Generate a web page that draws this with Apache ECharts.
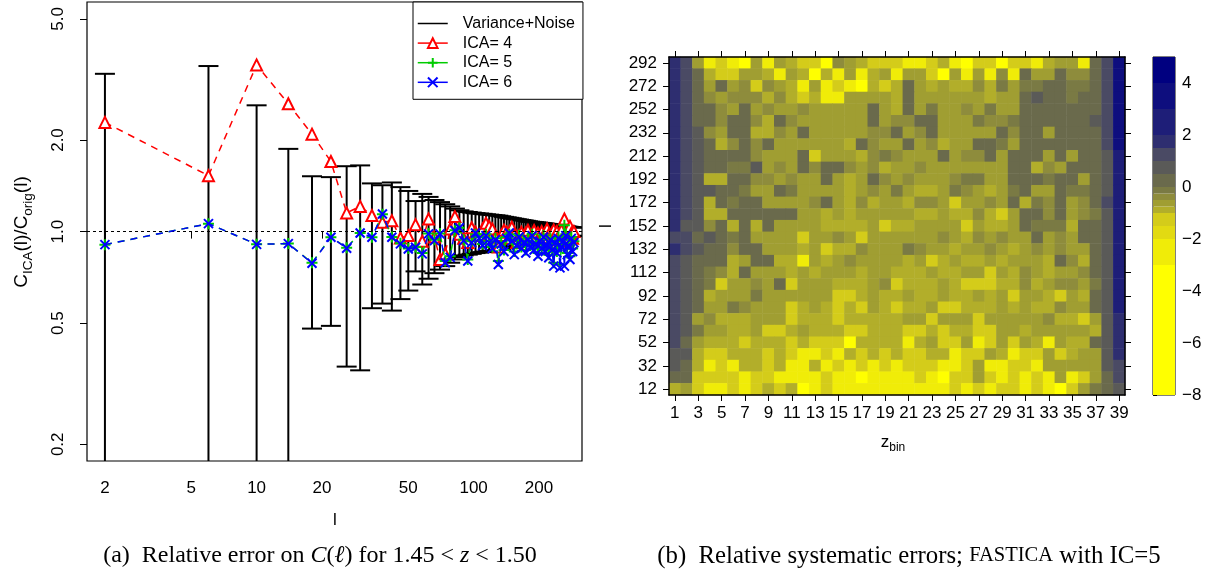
<!DOCTYPE html>
<html><head><meta charset="utf-8">
<script src="https://cdn.jsdelivr.net/npm/echarts@6/dist/echarts.min.js"></script>
<style>html,body{margin:0;padding:0;background:#fff}#c{width:1219px;height:577px}</style>
</head><body><div id="c"></div>
<script>
// ---------- Panel (a) data ----------
const ells = [2,6,10,14,18,22,26,30,34,38,42,46,50,54,58,62,66,70,74,78,82,86,90,94,98,102,106,110,114,118,122,126,130,134,138,142,146,150,154,158,162,166,170,174,178,182,186,190,194,198,202,206,210,214,218,222,226,230,234,238,242,246,250,254,258,262,266,270,274,278,282,286,290];
const sigma = [2.3,2.5,1.6,0.87,0.52,0.51,0.64,0.65,0.44,0.42,0.45,0.40,0.36,0.26,0.33,0.30,0.27,0.25,0.23,0.21,0.19,0.175,0.165,0.16,0.155,0.15,0.147,0.144,0.14,0.137,0.134,0.131,0.128,0.123,0.118,0.114,0.11,0.106,0.102,0.098,0.095,0.091,0.088,0.085,0.081,0.078,0.076,0.074,0.072,0.07,0.068,0.066,0.064,0.062,0.06,0.058,0.056,0.054,0.052,0.051,0.049,0.047,0.046,0.044,0.043,0.041,0.04,0.038,0.037,0.035,0.034,0.032,0.031];
const ica4 = [2.285,1.527,3.53,2.63,2.09,1.70,1.152,1.21,1.13,1.073,1.086,0.953,0.97,1.054,0.93,1.10,0.96,0.81,0.845,1.02,1.12,0.98,0.95,0.92,1.03,0.995,0.97,1.02,1.065,1.04,1.02,0.96,0.89,0.97,1.01,0.995,0.95,1.033,0.98,0.92,0.97,0.995,0.94,0.99,1.01,0.95,0.97,1.008,0.96,0.99,0.93,1.0,0.97,0.95,1.02,0.98,0.94,0.99,1.013,0.96,1.0,0.94,0.97,1.01,0.95,1.10,0.93,0.98,0.96,1.04,0.987,0.95,1.0];
const ica5 = [0.906,1.062,0.908,0.913,0.79,0.958,0.885,0.99,0.958,1.14,0.96,0.915,0.88,0.89,0.85,0.985,0.94,0.985,0.80,0.83,1.01,1.03,0.94,0.81,0.93,0.98,0.96,0.91,0.98,0.93,0.89,0.95,0.80,0.92,0.87,0.96,0.98,0.94,0.86,0.91,0.97,0.89,0.93,0.87,0.95,0.90,0.98,0.88,0.92,0.85,0.94,0.89,0.97,0.87,0.91,0.84,0.95,0.88,0.79,0.93,0.86,0.96,0.78,0.90,0.94,1.05,0.98,0.85,0.91,0.83,0.96,0.88,0.93];
const ica6 = [0.906,1.062,0.908,0.913,0.787,0.958,0.882,0.99,0.958,1.143,0.958,0.911,0.877,0.888,0.845,0.983,0.934,0.983,0.79,0.823,1.008,1.03,0.934,0.80,0.92,0.99,0.95,0.90,0.97,0.92,0.88,0.94,0.78,0.91,0.86,0.95,0.99,0.93,0.84,0.90,0.96,0.88,0.92,0.85,0.94,0.89,0.97,0.87,0.91,0.83,0.93,0.88,0.96,0.86,0.90,0.82,0.94,0.87,0.77,0.92,0.85,0.95,0.76,0.89,0.93,0.77,0.97,0.84,0.90,0.81,0.95,0.86,0.92];
const xTickVals = [2,5,10,20,50,100,200];
const yTickVals = [0.2,0.5,1.0,2.0,5.0];

// ---------- Panel (b) data ----------
const zBins = ['1','2','3','4','5','6','7','8','9','10','11','12','13','14','15','16','17','18','19','20','21','22','23','24','25','26','27','28','29','30','31','32','33','34','35','36','37','38','39'];
const heatEll = [292,282,272,262,252,242,232,222,212,202,192,182,172,162,152,142,132,122,112,102,92,82,72,62,52,42,32,22,12];
const heatRows = [
[1.75,1.25,-.6,-2.5,-1.3,-2.5,-4,-.6,-2.5,-.6,-.85,-1.3,-1.3,-4,-.35,-.6,-.85,-1.3,-1.3,-1.3,-2.5,-2.5,-1.3,-.85,-2.5,-4,-1.3,-1.3,-4,-1.3,-1.3,-2.5,-.85,-.6,-.6,-2.5,.25,1.25,3.5],
[1.75,1.25,.25,-.85,-1.3,-1.3,-.6,-.6,-.85,-2.5,-.6,-.85,-4,-.85,-2.5,-.6,-2.5,-.85,-.6,-2.5,-.6,-.6,-1.3,-4,-.6,-2.5,-.6,-2.5,-.35,-2.5,.25,-.6,-.6,.25,-.35,-.35,.25,1.25,3.5],
[1.75,1.25,.25,-.6,.25,-.6,-.35,-1.3,-.35,-.6,-.85,-2.5,-.6,-2.5,-1.3,-2.5,-4,-.85,-1.3,-.85,.25,-.6,-.85,-.6,-.85,-.85,-.35,-.85,-.1,-.6,-.1,-.1,.25,.25,-.1,-.1,.25,1.25,3.5],
[1.75,1.25,.25,-.35,-.6,-.35,-.35,-.35,-.85,-.35,-.85,-1.3,-.85,-2.5,-2.5,-.6,-.6,-.6,-.6,-.85,.25,-.6,-.6,-.6,-.6,-.6,-.6,-.85,-.6,-.6,.25,.75,.25,.25,-.1,.25,.25,1.25,3.5],
[1.75,1.25,.25,.25,-.35,-.6,.25,-.6,-.35,-.6,-.6,-.35,-.6,-.6,-.6,-.6,-.6,.25,-.6,-.85,.25,-.6,-.1,-.6,-.6,-.35,-.6,-.1,-.6,-.6,.25,.25,.25,.25,.25,.25,.25,1.25,3.5],
[1.75,1.25,.25,.25,-.35,.25,.25,-.35,-.85,.25,-.35,-.6,-.6,-.6,-.6,-.6,-.6,.25,-.6,-.35,-.35,.25,.25,-.6,-.6,-.6,-.1,-.35,-.35,-.1,.25,.25,.25,.25,.25,.25,.75,1.25,3.5],
[1.75,1.25,.75,-.35,-.6,.25,.25,-.85,-.85,-.35,-.6,.25,-.6,-.6,-.6,-.6,-.6,-.35,-.35,.25,-.6,-.35,.25,-.6,-.6,-.6,-.6,-.6,.25,-.35,.25,.25,-.6,.25,.25,.25,.25,1.25,3.5],
[1.75,1.25,.75,.25,-.85,-.35,.25,-.35,.25,-.6,-.6,-.6,-.6,-.6,-.6,-.85,.25,-.35,-.6,-.6,.25,-.6,-.35,-.85,-.6,-.6,.25,.25,-.1,-.6,.25,.25,.25,.25,.25,.25,.25,1.25,3.5],
[1.75,1.25,.75,.25,.25,.25,.25,-.35,-.6,-.6,-.6,.25,-1.3,-.6,-.6,-.6,-.85,-.35,-.1,-.35,-.6,-.6,-.6,.25,-.6,-.35,-.35,.25,-.6,.25,.25,.25,-.6,.25,-.6,.25,.25,.75,2.5],
[1.75,1.25,.75,.25,.25,-.1,-.1,.75,-.6,-.35,-.6,.25,-.35,.25,.25,-.35,-.6,-.35,-.85,-.6,-.6,-.35,-.6,-.6,-.6,-.6,-.6,-.6,-.6,.25,.25,-.85,-.35,-.6,.25,.25,.25,.75,2.5],
[1.75,1.25,.75,-.85,-.85,.25,.25,-.35,-.35,-.6,-.35,-.6,-.6,.25,-.6,-.85,-.6,.25,-.35,-.6,-.35,-.6,-.6,-.6,-.35,-.1,-.1,-.6,-.6,.25,.25,.25,-.1,.25,.25,-.6,.25,.75,2.5],
[1.75,1.25,.75,.75,.25,.25,-.1,-.6,-.6,.25,-.1,-.6,-.6,-.6,-.6,-.85,-.6,-.35,-.6,-.1,-.6,-.85,-.85,-.6,-.1,-.35,-.6,-.85,-.6,-.1,.25,-.6,-.6,.25,-.1,-.1,.25,.75,2.5],
[1.75,1.25,.75,-.85,.25,-.1,.25,.25,-.6,-.6,-.6,-.6,-.35,.25,-.6,-.85,-.35,-.85,-.6,-.6,-.85,-.35,-.35,-.6,-1.3,-.6,-.6,-.35,-.6,.25,-.85,-.1,-.35,.25,-.6,-.35,.25,1.25,2.5],
[1.75,1.25,.75,-.85,-.85,.25,.25,.25,.25,.25,.25,-.6,-.6,-.85,-.6,-.85,-.6,-.6,-.6,-.6,-.6,-.85,-.85,-.6,-.85,-.85,-.35,-.85,-1.3,-.6,.25,.25,-.35,.25,-.6,-.35,-.1,.75,2.5],
[1.75,.75,.75,-.35,.25,-.85,.25,-.85,.25,-.6,-.6,-.6,-.6,-.85,-.85,-.85,-.85,-.6,-1.3,-.85,-.85,-.6,-.6,-.6,-.6,-1.3,-.6,-.85,-.85,-.6,.25,-.1,-.1,-.1,-.85,.25,.25,.75,2.5],
[1.25,1.25,.25,.75,.25,-.1,.25,-.6,-.6,-.6,-.6,-1.3,-.6,-.6,-.35,-.6,-1.3,-.6,-.6,-.6,-.6,-.6,-.6,-.35,-.6,-.85,-.35,-.6,-.35,-.6,-.6,.25,-.6,-.35,-.6,.25,.25,.75,2.5],
[1.75,1.25,.75,.25,.25,-.35,.25,.25,-.6,-.6,-.6,-.85,-.6,-1.3,-.85,-.85,-.35,-.6,-.6,-.6,-.1,-.35,-.6,-.6,-.85,-.6,-.6,-.35,-.6,-.85,-.6,-.35,-.6,-.35,-.6,-.6,.25,.75,2.5],
[1.25,.75,.25,.25,.25,-.85,-.6,.25,.25,-.85,-.85,-2.5,-.6,-.85,-.6,-.35,-.6,-.6,-.6,-.6,-.85,-.6,-1.3,-.85,-.6,-.85,-.85,-.6,-.85,-.6,-.6,-.6,-.85,.25,-.35,-.85,.25,.75,2.5],
[1.25,.75,.25,-.1,-.35,-.85,.25,-.6,-.6,-.6,-.85,-.6,-.85,-.6,-.6,-.6,-.85,-.6,-.6,-.85,-.85,-.85,-.6,-.85,-.85,-.6,-.6,-1.3,-.6,-.85,-.35,-.6,-.85,-.6,-.6,-.35,.25,.75,2.5],
[1.25,.75,.25,-.1,-1.3,-.6,-.6,-.35,-.6,.25,-1.3,-.6,-.6,-.6,-.85,-.85,-.85,-.6,-.35,-1.3,-.85,-.85,-.85,-.6,-.85,-1.3,-1.3,-1.3,-.85,-.85,-.35,-.85,-.6,-.35,-.35,-.6,-.1,.75,2.5],
[1.25,.75,.25,-.85,-.6,-.6,-.6,-.1,-.6,-.6,-.6,-.6,-.6,-.6,-1.3,-1.3,-.85,-.6,-.85,-.85,-.6,-.85,-.85,-.6,-.85,-.85,-.6,-.85,-.6,-1.3,-.6,-.6,-.85,-1.3,-.6,-.85,.25,.75,2.5],
[1.25,.75,.25,-.6,-.6,-.1,-.35,-.6,-.6,-.6,-1.3,-.85,-.6,-.85,-1.3,-.85,-1.3,-.6,-.85,-1.3,-.85,-.85,-.6,-1.3,-1.3,-.85,-.85,-.85,-.6,-.85,-.6,-.85,-.85,-.35,-.6,-.6,.25,.75,2.5],
[1.25,.75,-.6,-.35,-.85,-.85,-.85,-.6,-.6,-.6,-1.3,-.85,-.85,-.85,-1.3,-.85,-.85,-.85,-.85,-.85,-.6,-.6,-1.3,-.6,-.6,-.6,-1.3,-.6,-.6,-.6,-.6,-.6,-.35,-.85,-.85,-1.3,-.6,.75,1.75],
[1.25,.75,-.1,-.6,-.6,-.85,-.85,-.6,-1.3,-1.3,-.85,-.6,-.85,-.85,-.85,-1.3,-1.3,-.85,-.85,-.85,-1.3,-1.3,-.85,-1.3,-.85,-.85,-1.3,-1.3,-.6,-.6,-.85,-.6,-.6,-.6,-.6,-.6,-.85,.75,1.75],
[1.25,.25,-.6,-.85,-.85,-.85,-1.3,-.85,-.85,-.85,-1.3,-.85,-1.3,-1.3,-1.3,-4,-.85,-.85,-.85,-.85,-2.5,-.85,-.6,-1.3,-1.3,-.6,-2.5,-1.3,-.6,-1.3,-.6,-.85,-2.5,-.6,-.85,-.85,.25,.75,1.75],
[.75,.75,-.85,-1.3,-1.3,-.85,-.85,-.85,-1.3,-.85,-1.3,-2.5,-2.5,-1.3,-2.5,-.85,-1.3,-.85,-1.3,-.85,-1.3,-1.3,-.85,-.85,-2.5,-1.3,-1.3,-.6,-.85,-2.5,-1.3,-1.3,-.6,-1.3,-.85,-.6,-.6,.75,1.75],
[.75,.25,-.85,-2.5,-1.3,-2.5,-.85,-.85,-1.3,-.85,-2.5,-2.5,-.85,-2.5,-1.3,-2.5,-1.3,-2.5,-1.3,-2.5,-1.3,-1.3,-1.3,-2.5,-2.5,-1.3,-.6,-2.5,-2.5,-1.3,-1.3,-2.5,-.6,-.6,-.6,-.6,-.6,.75,1.25],
[.25,.25,-1.3,-1.3,-1.3,-1.3,-2.5,-1.3,-1.3,-2.5,-2.5,-2.5,-2.5,-1.3,-2.5,-2.5,-4,-2.5,-2.5,-2.5,-2.5,-1.3,-2.5,-4,-1.3,-1.3,-.6,-1.3,-2.5,-1.3,-2.5,-1.3,-2.5,-.6,-2.5,-1.3,-.6,.25,1.25],
[-.85,-.6,-1.3,-2.5,-2.5,-1.3,-2.5,-1.3,-.85,-1.3,-.85,-4,-2.5,-1.3,-2.5,-2.5,-2.5,-2.5,-2.5,-2.5,-2.5,-2.5,-2.5,-2.5,-1.3,-2.5,-1.3,-2.5,-1.3,-1.3,-2.5,-1.3,-2.5,-4,-1.3,-.6,-.1,.25,.75]
];
const cbBreaks = [-8,-3,-2,-1.5,-1,-0.75,-0.5,-0.25,0,0.5,1,1.5,2,3,4,5];
const cbColors = ['#FFFF00','#F0EC08','#E2DA12','#D4CC1A','#B2AE2A','#A09E32','#8E8C3C','#7A7A44','#6A6A4C','#5A5A58','#4A4A64','#2E2E70','#1E1E78','#0E0E7E','#000080'];
const cbTickVals = [-8,-6,-4,-2,0,2,4];

// ---------- build ----------
const L10 = Math.log10;
const SANS = 'Liberation Sans, Arial, sans-serif';
const SERIF = 'Liberation Serif, Times New Roman, serif';
const errData = ells.map((l, i) => [L10(l), L10(Math.max(1 - sigma[i], 1e-3)), L10(1 + sigma[i])]);
const toPts = arr => ells.map((l, i) => [L10(l), L10(arr[i])]);
const yCats = heatEll.slice().reverse().map(String);
const heatData = [];
heatRows.forEach((row, r) => row.forEach((v, c) => heatData.push([c, heatRows.length - 1 - r, v])));
const cbData = cbColors.map((c, i) => [0, cbBreaks[i], cbBreaks[i + 1], i]);

const tickStyle = {color: '#000', width: 1};
const lblStyle = {color: '#000', fontFamily: SANS, fontSize: 17};

const chart = echarts.init(document.getElementById('c'));
chart.setOption({
  animation: false,
  backgroundColor: '#fff',
  grid: [
    {left: 87, top: 2, width: 495, height: 459, show: true, borderColor: '#000', borderWidth: 1.2, backgroundColor: 'transparent'},
    {left: 669, top: 57, width: 456, height: 338},
    {left: 1153, top: 57, width: 22, height: 338, show: true, borderColor: '#000', borderWidth: 1, backgroundColor: 'transparent'}
  ],
  xAxis: [
    {type: 'value', gridIndex: 0, min: 0.2184, max: 2.4995, axisLine: {show: false}, splitLine: {show: false},
     axisTick: {show: true, customValues: xTickVals.map(L10), length: 7, lineStyle: tickStyle},
     axisLabel: Object.assign({customValues: xTickVals.map(L10), margin: 19, formatter: v => String(Math.round(Math.pow(10, v)))}, lblStyle)},
    {type: 'category', gridIndex: 1, data: zBins, position: 'bottom', z: 10,
     axisLine: {show: true, lineStyle: {color: '#000', width: 1.5}},
     axisTick: {show: true, alignWithLabel: true, interval: 1, length: 6, lineStyle: tickStyle},
     axisLabel: Object.assign({interval: 1, margin: 10}, lblStyle), splitLine: {show: false}},
    {type: 'category', gridIndex: 1, data: zBins, position: 'top', z: 10,
     axisLine: {show: true, lineStyle: {color: '#000', width: 1.5}},
     axisTick: {show: true, alignWithLabel: true, interval: 1, length: 6, lineStyle: tickStyle},
     axisLabel: {show: false}, splitLine: {show: false}},
    {type: 'value', gridIndex: 2, min: 0, max: 1, show: false}
  ],
  yAxis: [
    {type: 'value', gridIndex: 0, min: -0.7539, max: 0.7545, axisLine: {show: false}, splitLine: {show: false},
     axisTick: {show: true, customValues: yTickVals.map(L10), length: 7, lineStyle: tickStyle},
     axisLabel: Object.assign({customValues: yTickVals.map(L10), rotate: 90, margin: 20, formatter: v => Math.pow(10, v).toFixed(1)}, lblStyle)},
    {type: 'category', gridIndex: 1, data: yCats, position: 'left', z: 10,
     axisLine: {show: true, lineStyle: {color: '#000', width: 1.5}},
     axisTick: {show: true, alignWithLabel: true, interval: 1, length: 6, lineStyle: tickStyle},
     axisLabel: Object.assign({interval: 1, margin: 12}, lblStyle), splitLine: {show: false}},
    {type: 'category', gridIndex: 1, data: yCats, position: 'right', z: 10,
     axisLine: {show: true, lineStyle: {color: '#000', width: 1.5}},
     axisTick: {show: true, alignWithLabel: true, interval: 1, length: 6, lineStyle: tickStyle},
     axisLabel: {show: false}, splitLine: {show: false}},
    {type: 'value', gridIndex: 2, min: -8, max: 5, position: 'right', axisLine: {show: false}, splitLine: {show: false},
     axisTick: {show: true, customValues: cbTickVals, length: 4, lineStyle: tickStyle},
     axisLabel: Object.assign({customValues: cbTickVals, margin: 7, formatter: v => String(v).replace('-', '\u2212')}, lblStyle)}
  ],
  visualMap: {
    type: 'piecewise', show: false, seriesIndex: 5, dimension: 2,
    pieces: cbColors.map((c, i) => ({gte: cbBreaks[i], lt: cbBreaks[i + 1], color: c}))
  },
  legend: {
    orient: 'vertical', left: 413, top: 2, z: 20, selectedMode: false,
    data: [{name: 'Variance+Noise', itemStyle: {opacity: 0}}, 'ICA= 4', 'ICA= 5', 'ICA= 6'],
    backgroundColor: '#fff', borderColor: '#000', borderWidth: 1, borderRadius: 0,
    padding: [13.5, 8, 9, 4], itemWidth: 30, itemHeight: 12, itemGap: 3.6,
    textStyle: {fontFamily: SANS, fontSize: 16, color: '#000', padding: [0, 0, 0, 10]},
    lineStyle: {type: 'solid', width: 1.5}
  },
  series: [
    {type: 'custom', name: 'errbars', xAxisIndex: 0, yAxisIndex: 0, clip: true, z: 2, silent: true,
     data: errData, encode: {x: 0, y: [1, 2]},
     renderItem: (params, api) => {
       const x = api.value(0);
       const top = api.coord([x, api.value(2)]);
       const bot = api.coord([x, api.value(1)]);
       const hw = 10, style = {stroke: '#000', lineWidth: 2};
       return {type: 'group', children: [
         {type: 'line', shape: {x1: top[0], y1: top[1], x2: bot[0], y2: bot[1]}, style},
         {type: 'line', shape: {x1: top[0] - hw, y1: top[1], x2: top[0] + hw, y2: top[1]}, style},
         {type: 'line', shape: {x1: bot[0] - hw, y1: bot[1], x2: bot[0] + hw, y2: bot[1]}, style}
       ]};
     }},
    {type: 'line', name: 'Variance+Noise', xAxisIndex: 0, yAxisIndex: 0, data: [], symbol: 'none',
     lineStyle: {color: '#000', width: 1.5}, itemStyle: {color: '#000'}},
    {type: 'line', name: 'ICA= 4', xAxisIndex: 0, yAxisIndex: 0, data: toPts(ica4), z: 3,
     symbol: 'emptyTriangle', symbolSize: 11, lineStyle: {color: '#ff0000', width: 1.5, type: [7, 6]},
     itemStyle: {color: '#ff0000', borderWidth: 1.5},
     markLine: {silent: true, symbol: 'none', label: {show: false}, lineStyle: {color: '#000', width: 1, type: [3, 3]}, data: [{yAxis: 0}]}},
    {type: 'line', name: 'ICA= 5', xAxisIndex: 0, yAxisIndex: 0, data: toPts(ica5), z: 4,
     symbol: 'emptyPath://M5,0 L5,10 M0,5 L10,5', symbolSize: 11, lineStyle: {color: '#00cc00', width: 1.5, type: [7, 6]},
     itemStyle: {color: '#00cc00', borderWidth: 1.5}},
    {type: 'line', name: 'ICA= 6', xAxisIndex: 0, yAxisIndex: 0, data: toPts(ica6), z: 5,
     symbol: 'emptyPath://M0,0 L10,10 M10,0 L0,10', symbolSize: 9, lineStyle: {color: '#0000ff', width: 1.5, type: [7, 6]},
     itemStyle: {color: '#0000ff', borderWidth: 2}},
    {type: 'heatmap', name: 'heat', xAxisIndex: 1, yAxisIndex: 1, data: heatData, silent: true, progressive: 0,
     itemStyle: {borderWidth: 0}},
    {type: 'custom', name: 'colorbar', xAxisIndex: 3, yAxisIndex: 3, data: cbData, silent: true, encode: {x: 0, y: [1, 2]},
     renderItem: (params, api) => {
       const p0 = api.coord([0, api.value(1)]);
       const p1 = api.coord([1, api.value(2)]);
       return {type: 'rect', shape: {x: p0[0], y: p1[1], width: p1[0] - p0[0], height: p0[1] - p1[1]},
               style: {fill: cbColors[api.value(3)]}};
     }}
  ],
  graphic: [
    {type: 'text', x: 22, y: 232, rotation: Math.PI / 2, z: 100,
     style: {text: '{a|C}{s|ICA}{a|(l)/C}{s|orig}{a|(l)}', align: 'center', verticalAlign: 'middle', textAlign: 'center', textVerticalAlign: 'middle',
       rich: {a: {fontFamily: SANS, fontSize: 19, lineHeight: 26, fill: '#000'}, s: {fontFamily: SANS, fontSize: 13.5, lineHeight: 26, verticalAlign: 'bottom', fill: '#000'}}}},
    {type: 'text', x: 335, y: 520, z: 100,
     style: {text: 'l', font: '17px ' + SANS, fill: '#000', align: 'center', verticalAlign: 'middle', textAlign: 'center', textVerticalAlign: 'middle'}},
    {type: 'text', x: 606, y: 226, rotation: Math.PI / 2, z: 100,
     style: {text: 'l', font: '17px ' + SANS, fill: '#000', align: 'center', verticalAlign: 'middle', textAlign: 'center', textVerticalAlign: 'middle'}},
    {type: 'text', x: 893, y: 442, z: 100,
     style: {text: '{a|z}{s|bin}', align: 'center', verticalAlign: 'middle', textAlign: 'center', textVerticalAlign: 'middle',
       rich: {a: {fontFamily: SANS, fontSize: 17, lineHeight: 24, fill: '#000'}, s: {fontFamily: SANS, fontSize: 12, lineHeight: 24, verticalAlign: 'bottom', fill: '#000'}}}},
    {type: 'text', x: 320, y: 556, z: 100,
     style: {text: '{n|(a)  Relative error on }{i|C}{n|(}{i|\u2113}{n|) for 1.45 < }{i|z}{n| < 1.50}', align: 'center', verticalAlign: 'middle', textAlign: 'center', textVerticalAlign: 'middle',
       rich: {n: {fontFamily: SERIF, fontSize: 24, fill: '#000'}, i: {fontFamily: SERIF, fontSize: 24, fontStyle: 'italic', fill: '#000'}}}},
    {type: 'text', x: 909, y: 556, z: 100,
     style: {text: '{n|(b)  Relative systematic errors; }{sc|FASTICA}{n| with IC=5}', align: 'center', verticalAlign: 'middle', textAlign: 'center', textVerticalAlign: 'middle',
       rich: {n: {fontFamily: SERIF, fontSize: 24.8, fill: '#000'}, sc: {fontFamily: SERIF, fontSize: 20.5, fill: '#000'}}}}
  ]
});
</script></body></html>
